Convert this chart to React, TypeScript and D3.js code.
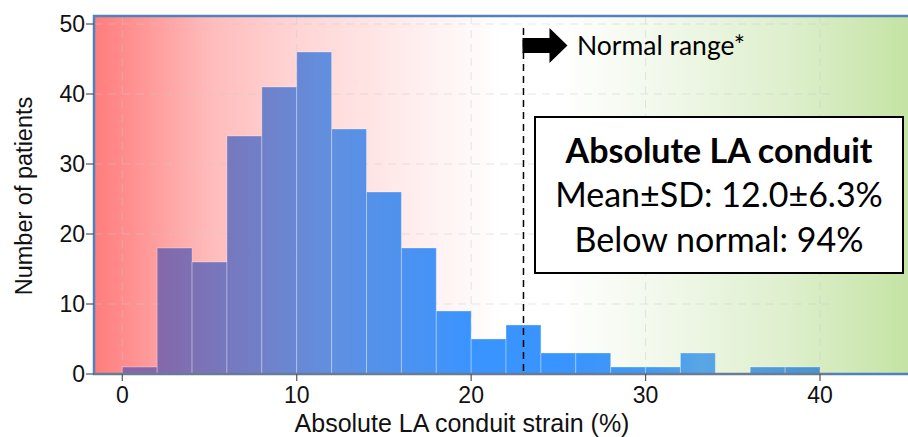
import React from "react";
import * as d3 from "d3";

const binStarts = [0, 2, 4, 6, 8, 10, 12, 14, 16, 18, 20, 22, 24, 26, 28, 30, 32, 34, 36, 38];
const binWidth = 2;
const counts = [1, 18, 16, 34, 41, 46, 35, 26, 18, 9, 5, 7, 3, 3, 1, 1, 3, 0, 1, 1];
const xTicks = [0, 10, 20, 30, 40];
const yTicks = [0, 10, 20, 30, 40, 50];
const normalCutoff = 23;
const boxLines = ["Absolute LA conduit", "Mean±SD: 12.0±6.3%", "Below normal: 94%"];

const W = 908;
const H = 437;
const plotLeft = 94;
const plotTop = 16;
const plotRight = 910;
const plotBottom = 374;

export default function App() {
  const x = d3.scaleLinear().domain([0, 40]).range([122.3, 820]);
  const y = d3.scaleLinear().domain([0, 50]).range([374, 24]);
  const gridRight = x(40.6);
  const pw = plotRight - plotLeft;
  const pct = (px: number) => `${((px - plotLeft) / pw) * 100}%`;
  const xc = x(normalCutoff);
  const sans = "'Liberation Sans', Arial, sans-serif";
  const cal = "Lato, 'Open Sans', sans-serif";

  return (
    <svg width={W} height={H} style={{ position: "absolute", left: 0, top: 0 }}>
      <defs>
        <linearGradient id="bg" x1={plotLeft} x2={plotRight} y1={0} y2={0} gradientUnits="userSpaceOnUse">
          <stop offset="0%" stopColor="#FF7C7C" />
          <stop offset={pct(210)} stopColor="#FFBBBB" />
          <stop offset={pct(290)} stopColor="#FFD3D3" />
          <stop offset={pct(440)} stopColor="#FFF3F3" />
          <stop offset={pct(505)} stopColor="#FFFFFF" />
          <stop offset={pct(560)} stopColor="#FFFFFF" />
          <stop offset={pct(665)} stopColor="#F1F8EA" />
          <stop offset={pct(790)} stopColor="#DDEFCC" />
          <stop offset="100%" stopColor="#C4E3A3" />
        </linearGradient>
        <linearGradient id="bars" x1={x(0)} x2={x(40)} y1={0} y2={0} gradientUnits="userSpaceOnUse">
          <stop offset="0%" stopColor="#8A64A4" />
          <stop offset="5%" stopColor="#8468AA" />
          <stop offset="20%" stopColor="#7080C8" />
          <stop offset="30%" stopColor="#6090E0" />
          <stop offset="50%" stopColor="#3A94FF" />
          <stop offset="63%" stopColor="#3894FF" />
          <stop offset="76%" stopColor="#4499F0" />
          <stop offset="83%" stopColor="#58A6E6" />
          <stop offset="100%" stopColor="#4A92D0" />
        </linearGradient>
      </defs>

      <rect x={plotLeft} y={plotTop} width={pw} height={plotBottom - plotTop} fill="url(#bg)" />

      {/* grid */}
      {xTicks.map((t) => (
        <line key={"gx" + t} x1={x(t)} x2={x(t)} y1={plotTop} y2={plotBottom} stroke="#C8C8C8" strokeOpacity={0.45} strokeDasharray="8,6" strokeWidth={1} />
      ))}
      {yTicks.filter((t) => t > 0).map((t) => (
        <line key={"gy" + t} x1={plotLeft} x2={gridRight} y1={y(t)} y2={y(t)} stroke="#C8C8C8" strokeOpacity={0.45} strokeDasharray="8,6" strokeWidth={1} />
      ))}

      {/* bars */}
      {binStarts.map((b, i) =>
        counts[i] > 0 ? (
          <rect
            key={"b" + i}
            x={x(b)}
            y={y(counts[i])}
            width={x(b + binWidth) - x(b)}
            height={y(0) - y(counts[i])}
            fill="url(#bars)"
            stroke="#FFFFFF"
            strokeOpacity={0.3}
            strokeWidth={1}
          />
        ) : null
      )}

      {/* panel border */}
      <rect x={plotLeft} y={plotTop} width={pw} height={plotBottom - plotTop} fill="none" stroke="#4F81BD" strokeWidth={2.5} />
      <line x1={plotLeft} x2={gridRight} y1={plotBottom} y2={plotBottom} stroke="#7A7A7A" strokeWidth={1.5} />

      {/* y axis ticks */}
      {yTicks.map((t) => (
        <g key={"yt" + t}>
          <line x1={plotLeft - 8} x2={plotLeft} y1={y(t)} y2={y(t)} stroke="#555" strokeWidth={1.2} />
          <text x={plotLeft - 9} y={y(t)} dy="0.36em" textAnchor="end" fontFamily={sans} fontSize={23} fill="#111">
            {t}
          </text>
        </g>
      ))}
      {/* x axis ticks */}
      {xTicks.map((t) => (
        <g key={"xt" + t}>
          <line x1={x(t)} x2={x(t)} y1={plotBottom} y2={plotBottom + 7} stroke="#555" strokeWidth={1.2} />
          <text x={x(t)} y={plotBottom + 29} textAnchor="middle" fontFamily={sans} fontSize={23} fill="#111">
            {t}
          </text>
        </g>
      ))}

      <text x={462} y={432} textAnchor="middle" fontFamily={sans} fontSize={25} fill="#111">
        Absolute LA conduit strain (%)
      </text>
      <text transform={`translate(32,196) rotate(-90)`} textAnchor="middle" fontFamily={sans} fontSize={23.5} fill="#111">
        Number of patients
      </text>

      {/* cutoff */}
      <line x1={xc} x2={xc} y1={28} y2={plotBottom} stroke="#000" strokeWidth={1.5} strokeDasharray="7,5" />
      <polygon
        points={`${xc - 1},38 ${xc + 26},38 ${xc + 26},28 ${xc + 44},45.5 ${xc + 26},63 ${xc + 26},53 ${xc - 1},53`}
        fill="#000"
      />
      <text x={577} y={55} fontFamily={cal} fontSize={26.5} fill="#000">
        Normal range*
      </text>

      {/* box */}
      <rect x={535} y={117} width={368} height={156} fill="#FFFFFF" stroke="#000" strokeWidth={2} />
      <text x={719} y={163} textAnchor="middle" fontFamily={cal} fontWeight="bold" fontSize={34} fill="#000">
        {boxLines[0]}
      </text>
      <text x={719} y={207} textAnchor="middle" fontFamily={cal} fontSize={34} fill="#000">
        {boxLines[1]}
      </text>
      <text x={719} y={252} textAnchor="middle" fontFamily={cal} fontSize={34} fill="#000">
        {boxLines[2]}
      </text>
    </svg>
  );
}
